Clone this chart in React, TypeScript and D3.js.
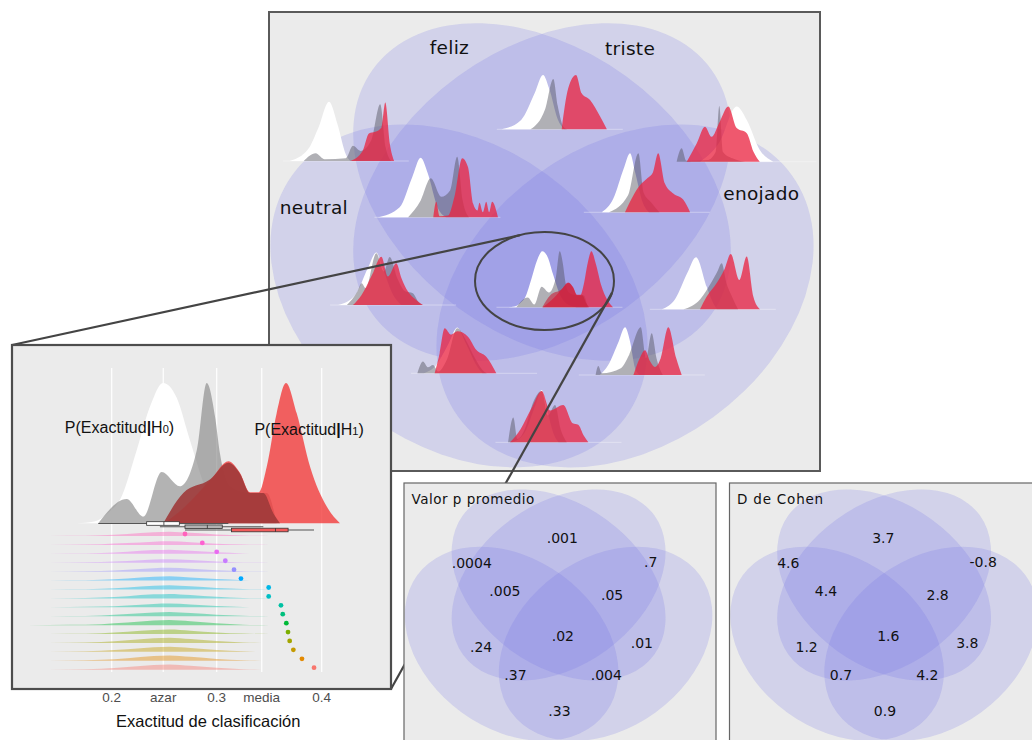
import React from "react";
import * as d3 from "d3";

type Knot = [number, number];

// ---------------- Venn: sets, regions and the values written in them ----------------
const setLabels = ["neutral", "feliz", "triste", "enojado"];

const regionNames = [
  "neutral-feliz", "feliz-triste", "triste-enojado",
  "neutral-feliz-triste", "feliz-triste-enojado", "todas",
  "neutral-triste", "feliz-enojado", "neutral-triste-enojado",
  "neutral-feliz-enojado", "neutral-enojado",
];

const pValues = [".0004", ".001", ".7", ".005", ".05", ".02", ".24", ".01", ".37", ".004", ".33"];
const cohenD = ["4.6", "3.7", "-0.8", "4.4", "2.8", "1.6", "1.2", "3.8", "0.7", "4.2", "0.9"];

// ---------------- inset: accuracy axis ----------------
const accTicks = [0.2, 0.2491, 0.3, 0.3429, 0.4];
const accTickLabels = ["0.2", "azar", "0.3", "media", "0.4"];

// densities of the centre region (accuracy, density)
const insetWhite: Knot[] = [
  [0.1667, 0], [0.1833, 0.2], [0.1981, 1.4], [0.2079, 2.8], [0.2238, 8.7], [0.2365, 13.9],
  [0.249, 16.7], [0.2617, 15], [0.2745, 9.9], [0.29, 4], [0.31, 0.8], [0.33, 0],
];
const insetGray: Knot[] = [
  [0.1872, 0], [0.2143, 2.9], [0.2301, 0.8], [0.2476, 6.1], [0.265, 4.4], [0.281, 8.7],
  [0.2905, 16.7], [0.2984, 12.7], [0.3031, 8.3], [0.3127, 4.4], [0.33, 3.6], [0.3476, 3.6], [0.3571, 0],
];
const insetRed: Knot[] = [
  [0.25, 0], [0.27, 2], [0.295, 5.3], [0.3111, 7.4], [0.3222, 6.0], [0.3317, 3.7], [0.34, 3.7],
  [0.3476, 6.7], [0.3571, 13.1], [0.366, 16.7], [0.3762, 13.1], [0.389, 6.7], [0.4048, 2], [0.4174, 0],
];
const insetDarkRed: Knot[] = [
  [0.2491, 0], [0.2682, 3.6], [0.2936, 5.2], [0.3111, 7.2], [0.3222, 5.9], [0.3317, 3.6],
  [0.3444, 3.6], [0.3539, 1.2], [0.3603, 0],
];

// boxplots under the densities
const boxGroups = ["H0", "obs", "H1"];
const boxMin = [0.1872, 0.2459, 0.2698];
const boxQ1 = [0.2333, 0.2698, 0.3141];
const boxMed = [0.2497, 0.2911, 0.356];
const boxQ3 = [0.2644, 0.3053, 0.368];
const boxMax = [0.3111, 0.3444, 0.3927];

// participants (rows, top to bottom)
const participantAcc = [
  0.2698, 0.2863, 0.3, 0.3082, 0.3165, 0.3231, 0.3495, 0.3495,
  0.3612, 0.3629, 0.3663, 0.3679, 0.3695, 0.373, 0.3812, 0.3927,
];
const participantNullPeak = [15, 13, 15, 12.5, 13.5, 15, 15, 16, 13.5, 15, 18, 16, 19, 18, 19, 19];
const nullShape: Knot[] = [
  [0.12, 0], [0.16, 0.06], [0.19, 0.2], [0.215, 0.5], [0.24, 0.9], [0.255, 1],
  [0.275, 0.75], [0.3, 0.35], [0.325, 0.1], [0.35, 0],
];
const participantColors = [
  "#FF62BC", "#FD61D1", "#E96BF0", "#C77CFF", "#9590FF", "#00A9FF", "#00B8E7", "#00BFC4",
  "#00C1A3", "#00BF7D", "#00BA38", "#7CAE00", "#A3A500", "#C49A00", "#E38900", "#F8766D",
];

// ---------------- mini densities in each Venn region ----------------
const miniWhite: Knot[][] = [
  [[0.156, 0], [0.2, 3.5], [0.225, 10], [0.25, 17.6], [0.27, 11], [0.29, 2], [0.3, 0]],
  [[0.151, 0], [0.198, 2.8], [0.23, 10.7], [0.25, 16.2], [0.265, 12], [0.285, 3], [0.3, 0]],
  [[0.163, 0], [0.21, 6], [0.25, 16.4], [0.274, 12.4], [0.305, 3.5], [0.337, 0]],
  [[0.148, 0], [0.2, 3], [0.23, 12], [0.25, 17.7], [0.267, 13], [0.29, 3], [0.31, 0]],
  [[0.183, 0], [0.21, 4], [0.235, 13], [0.25, 17.6], [0.262, 12], [0.28, 3], [0.295, 0]],
  insetWhite,
  [[0.159, 0], [0.2, 3], [0.23, 11], [0.25, 15.6], [0.265, 11], [0.29, 3], [0.31, 0]],
  [[0.168, 0], [0.2, 3], [0.23, 11], [0.25, 15.5], [0.2755, 6.7], [0.29, 2], [0.3, 0]],
  [[0.17, 0], [0.2, 2.5], [0.23, 9], [0.25, 13.6], [0.27, 9], [0.3, 1.5], [0.31, 0]],
  [[0.19, 0], [0.21, 3], [0.235, 10], [0.25, 14.2], [0.262, 10], [0.274, 2], [0.285, 0]],
  [[0.18, 0], [0.21, 3], [0.235, 11], [0.25, 15.6], [0.262, 10], [0.28, 2], [0.29, 0]],
];
const miniGray: Knot[][] = [
  [[0.19, 0], [0.218, 2.3], [0.24, 0.5], [0.29, 0.8], [0.307, 4.5], [0.325, 3], [0.35, 6], [0.372, 16.9], [0.385, 4], [0.398, 0]],
  [[0.22, 0], [0.255, 6], [0.2745, 15], [0.285, 7], [0.3, 0.5], [0.31, 0]],
  [[0.107, 0], [0.119, 4], [0.13, 0.3], [0.18, 0.5], [0.2, 3], [0.2086, 16.6], [0.217, 3], [0.24, 1], [0.27, 0]],
  [[0.22, 0], [0.25, 5], [0.274, 11.6], [0.299, 6.1], [0.32, 8], [0.337, 18], [0.35, 5], [0.365, 0]],
  [[0.2, 0], [0.245, 5], [0.27, 17.6], [0.282, 6], [0.3, 3], [0.32, 0]],
  insetGray,
  [[0.18, 0], [0.205, 4], [0.215, 6.5], [0.225, 5], [0.25, 15.4], [0.268, 10], [0.282, 14.3], [0.3, 8], [0.32, 4], [0.337, 3.5], [0.35, 1], [0.361, 0]],
  [[0.22, 0], [0.26, 3], [0.2874, 8.2], [0.3, 11], [0.3112, 13.7], [0.322, 8], [0.335, 4], [0.35, 0]],
  [[0.155, 0], [0.1683, 3.5], [0.18, 1.8], [0.1921, 2.5], [0.205, 0.5], [0.225, 4], [0.25, 13.4], [0.27, 10], [0.29, 5], [0.31, 1], [0.32, 0]],
  [[0.18, 0], [0.1864, 2.7], [0.195, 0.5], [0.24, 2], [0.26, 6], [0.2874, 14.2], [0.3, 5], [0.3136, 12.4], [0.325, 5], [0.34, 0]],
  [[0.17, 0], [0.1824, 7.4], [0.192, 1], [0.21, 4], [0.23, 12], [0.25, 15.3], [0.265, 8], [0.2817, 11.1], [0.295, 4], [0.31, 0]],
];
const miniRed: Knot[][] = [
  [[0.3, 0], [0.33, 3], [0.345, 8.2], [0.36, 8.7], [0.375, 10], [0.384, 17.4], [0.395, 5], [0.405, 0]],
  [[0.2945, 0], [0.31, 12.2], [0.3286, 16.2], [0.342, 10.7], [0.362, 8.7], [0.386, 3.8], [0.402, 0]],
  [[0.131, 0], [0.155, 5.5], [0.1745, 10.4], [0.19, 7.4], [0.21, 12], [0.23, 16.4], [0.25, 10], [0.274, 8.5], [0.29, 3], [0.305, 0]],
  [[0.28, 0], [0.287, 4.6], [0.295, 0.3], [0.315, 0.5], [0.33, 6], [0.349, 17.6], [0.3626, 15], [0.375, 4], [0.385, 2], [0.39, 4.3], [0.398, 1.5], [0.406, 4.6], [0.413, 1.5], [0.42, 4.6], [0.434, 0]],
  [[0.238, 0], [0.274, 8.1], [0.29, 10], [0.305, 12], [0.317, 17.6], [0.333, 8.6], [0.353, 5.6], [0.377, 3.7], [0.393, 0]],
  insetRed,
  [[0.1945, 0], [0.215, 3], [0.24, 9], [0.262, 14.4], [0.278, 8.5], [0.2976, 12.4], [0.31, 8], [0.3255, 4], [0.345, 1.5], [0.361, 0]],
  [[0.2595, 0], [0.2755, 3.8], [0.3, 8], [0.318, 12], [0.3326, 16.5], [0.3531, 8.7], [0.3707, 15.7], [0.3864, 3.8], [0.4024, 0]],
  [[0.1962, 0], [0.208, 6], [0.22, 13.4], [0.235, 11.5], [0.25, 12.5], [0.2755, 10.9], [0.295, 7], [0.319, 4.9], [0.3429, 0]],
  [[0.27, 0], [0.285, 5], [0.2976, 7.4], [0.31, 4], [0.3214, 2.4], [0.335, 5], [0.3531, 14.2], [0.372, 5], [0.385, 0]],
  [[0.1745, 0], [0.2, 4], [0.225, 10], [0.25, 15.3], [0.27, 9.5], [0.3014, 11.1], [0.3238, 5.7], [0.3371, 5.2], [0.35, 2], [0.361, 0]],
];
const miniRed2: (Knot[] | null)[] = [null, null, null, null, null, insetDarkRed, null, null, null, null, null];

// ---------------- layout ----------------
const TOP = { x: 269, y: 12, w: 551, h: 459 };
const INSET = { x: 12, y: 345, w: 379, h: 344 };
const SMALL = [
  { x: 404, y: 483, w: 312, h: 270, title: "Valor p promedio", labels: pValues, spacing: 0.5 },
  { x: 729.5, y: 483, w: 312, h: 270, title: "D de Cohen", labels: cohenD, spacing: 0.8 },
];

// ellipse geometry in panel units (panel width = 1)
const ellipses = [
  { cx: 0.3448, cy: 0.5154, a: 0.3739, b: 0.2722, rot: 36 },
  { cx: 0.4955, cy: 0.3267, a: 0.3793, b: 0.2595, rot: 36 },
  { cx: 0.4955, cy: 0.3267, a: 0.3793, b: 0.2595, rot: -36 },
  { cx: 0.6461, cy: 0.5154, a: 0.3739, b: 0.2722, rot: -36 },
];
const setLabelPos = [[0.0194, 0.3666], [0.2917, 0.0762], [0.6098, 0.078], [0.8245, 0.3412]];
const regionLabelPos = [
  [0.1529, 0.2715], [0.4574, 0.1933], [0.7692, 0.2683], [0.2734, 0.3612], [0.6314, 0.375],
  [0.4734, 0.5064], [0.2115, 0.5407], [0.7266, 0.5298], [0.3215, 0.6314], [0.5984, 0.6314], [0.4625, 0.7458],
];
const miniAnchor = [
  [0.1089, 0.2704], [0.4973, 0.2129], [0.8488, 0.2717], [0.2753, 0.3726], [0.6552, 0.3635],
  [0.4967, 0.5359], [0.1947, 0.5318], [0.775, 0.5396], [0.3417, 0.6557], [0.6461, 0.6588], [0.4949, 0.781],
];
const zoomEll = { cx: 0.5, cy: 0.4882, rx: 0.1261, ry: 0.0889 };

const BG = "#ebebeb";
const VENN_FILL = "#6e6ee6";
const SANS = "'DejaVu Sans', sans-serif";
const GG = "'Liberation Sans', Arial, sans-serif";

type Scale = d3.ScaleLinear<number, number>;

const densityArea = (knots: Knot[], x: Scale, y: Scale) =>
  d3.area<Knot>()
    .x((d) => x(d[0]))
    .y0(y(0))
    .y1((d) => y(d[1]))
    .curve(d3.curveMonotoneX)(knots) || "";

const vennScales = (p: { x: number; y: number; w: number }) => ({
  vx: d3.scaleLinear().domain([0, 1]).range([p.x, p.x + p.w]),
  vy: d3.scaleLinear().domain([0, 1]).range([p.y, p.y + p.w]),
  k: p.w,
});

function VennEllipses({ vs }: { vs: ReturnType<typeof vennScales> }) {
  return (
    <g>
      {ellipses.map((e, i) => (
        <ellipse
          key={i}
          cx={vs.vx(e.cx)}
          cy={vs.vy(e.cy)}
          rx={e.a * vs.k}
          ry={e.b * vs.k}
          transform={`rotate(${e.rot},${vs.vx(e.cx)},${vs.vy(e.cy)})`}
          fill={VENN_FILL}
          fillOpacity={0.2}
        />
      ))}
    </g>
  );
}

export default function App() {
  const top = vennScales(TOP);

  const insetX = d3.scaleLinear().domain([0.2, 0.4]).range([111.7, 321.7]);
  const insetY = d3.scaleLinear().domain([0, 20]).range([523.3, 355.3]);
  const rowY = d3.scaleLinear().domain([0, 15]).range([534, 667.7]);
  const ridgeH = d3.scaleLinear().domain([0, 20]).range([0, 5.6]);
  const boxY = d3.scalePoint().domain(boxGroups).range([523.5, 530]);
  const boxFill = ["#ffffff", "#b3b3b3", "#f25b5b"];

  const miniK = 0.4;
  const miniSpan = miniK * (insetX(0.35) - insetX(0.25));
  const miniH = miniK * (insetY(0) - insetY(20));

  const ellPt = (deg: number) => {
    const t = (deg * Math.PI) / 180;
    return [top.vx(zoomEll.cx + zoomEll.rx * Math.cos(t)), top.vy(zoomEll.cy + zoomEll.ry * Math.sin(t))];
  };
  const p1 = ellPt(-110.6);
  const p2 = ellPt(14);

  return (
    <svg
      width={1032}
      height={740}
      style={{ position: "absolute", left: 0, top: 0, background: "#fff" }}
    >
      <defs>
        <clipPath id="clip-top">
          <rect x={TOP.x} y={TOP.y} width={TOP.w} height={TOP.h} />
        </clipPath>
        <clipPath id="clip-inset">
          <rect x={INSET.x} y={INSET.y} width={INSET.w} height={INSET.h} />
        </clipPath>
        {SMALL.map((p, i) => (
          <clipPath key={i} id={`clip-small-${i}`}>
            <rect x={p.x} y={p.y} width={p.w} height={p.h} />
          </clipPath>
        ))}
      </defs>

      {/* ---------- top Venn with mini densities ---------- */}
      <g clipPath="url(#clip-top)">
        <rect x={TOP.x} y={TOP.y} width={TOP.w} height={TOP.h} fill={BG} />
        <VennEllipses vs={top} />
        {regionNames.map((name, i) => {
          const ax = top.vx(miniAnchor[i][0]);
          const ay = top.vy(miniAnchor[i][1]);
          const mx = d3.scaleLinear().domain([0.25, 0.35]).range([ax, ax + miniSpan]);
          const my = d3.scaleLinear().domain([0, 20]).range([ay, ay - miniH]);
          const r2 = miniRed2[i];
          return (
            <g key={name}>
              <line x1={mx(0.14)} x2={mx(0.44)} y1={ay} y2={ay} stroke="#ffffff" strokeOpacity={0.45} strokeWidth={0.8} />
              <path d={densityArea(miniWhite[i], mx, my)} fill="#ffffff" />
              <path d={densityArea(miniGray[i], mx, my)} fill="#50505c" fillOpacity={0.45} />
              <path d={densityArea(miniRed[i], mx, my)} fill="#ea2440" fillOpacity={0.76} />
              {r2 && <path d={densityArea(r2, mx, my)} fill="#c81f38" fillOpacity={0.6} />}
            </g>
          );
        })}
        {setLabels.map((s, i) => (
          <text
            key={s}
            x={top.vx(setLabelPos[i][0])}
            y={top.vy(setLabelPos[i][1])}
            fontFamily={SANS}
            fontSize={18.5}
            letterSpacing={0.3}
            fill="#111"
          >
            {s}
          </text>
        ))}
      </g>
      <rect x={TOP.x} y={TOP.y} width={TOP.w} height={TOP.h} fill="none" stroke="#5a5a5a" strokeWidth={2} />

      {/* zoom ellipse and connectors */}
      <ellipse
        cx={top.vx(zoomEll.cx)}
        cy={top.vy(zoomEll.cy)}
        rx={zoomEll.rx * top.k}
        ry={zoomEll.ry * top.k}
        fill="none"
        stroke="#444"
        strokeWidth={2}
      />
      <line x1={INSET.x} y1={INSET.y} x2={p1[0]} y2={p1[1]} stroke="#444" strokeWidth={2.2} />
      <line x1={INSET.x + INSET.w} y1={INSET.y + INSET.h} x2={p2[0]} y2={p2[1]} stroke="#444" strokeWidth={2.2} />

      {/* ---------- inset: centre region enlarged ---------- */}
      <rect x={INSET.x} y={INSET.y} width={INSET.w} height={INSET.h} fill={BG} />
      <g clipPath="url(#clip-inset)">
        {accTicks.map((t) => (
          <line key={t} x1={insetX(t)} x2={insetX(t)} y1={368} y2={672} stroke="#fff" strokeWidth={1.2} />
        ))}
        <path d={densityArea(insetWhite, insetX, insetY)} fill="#ffffff" />
        <path d={densityArea(insetGray, insetX, insetY)} fill="#808080" fillOpacity={0.6} />
        <path d={densityArea(insetRed, insetX, insetY)} fill="#f23c3c" fillOpacity={0.8} />
        <path d={densityArea(insetDarkRed, insetX, insetY)} fill="#9e3a3a" fillOpacity={0.9} />

        {boxGroups.map((g, i) => {
          const y = boxY(g) as number;
          return (
            <g key={g}>
              <line x1={insetX(boxMin[i])} x2={insetX(boxMax[i])} y1={y} y2={y} stroke="#555" strokeWidth={1.1} />
              <rect
                x={insetX(boxQ1[i])}
                y={y - 1.8}
                width={insetX(boxQ3[i]) - insetX(boxQ1[i])}
                height={3.6}
                fill={boxFill[i]}
                stroke="#333"
                strokeWidth={0.8}
              />
              <line x1={insetX(boxMed[i])} x2={insetX(boxMed[i])} y1={y - 1.8} y2={y + 1.8} stroke="#333" strokeWidth={0.8} />
            </g>
          );
        })}

        {participantAcc.map((acc, i) => {
          const base = rowY(i) + 2;
          const ry = d3.scaleLinear().domain([0, 20]).range([base, base - ridgeH(20)]);
          const knots: Knot[] = nullShape.map(([a, r]) => [a, r * participantNullPeak[i]]);
          return (
            <g key={i}>
              <path d={densityArea(knots, insetX, ry)} fill={participantColors[i]} fillOpacity={0.42} />
              <circle cx={insetX(acc)} cy={rowY(i)} r={2.4} fill={participantColors[i]} />
            </g>
          );
        })}

        <text x={insetX(0.2074)} y={432.7} textAnchor="middle" fontFamily={GG} fontSize={16} fill="#111">
          <tspan>P(Exactitud</tspan>
          <tspan fontWeight="bold">|</tspan>
          <tspan>H</tspan>
          <tspan fontSize={11}>0</tspan>
          <tspan>)</tspan>
        </text>
        <text x={insetX(0.388)} y={435} textAnchor="middle" fontFamily={GG} fontSize={16} fill="#111">
          <tspan>P(Exactitud</tspan>
          <tspan fontWeight="bold">|</tspan>
          <tspan>H</tspan>
          <tspan fontSize={11}>1</tspan>
          <tspan>)</tspan>
        </text>
      </g>
      <rect x={INSET.x} y={INSET.y} width={INSET.w} height={INSET.h} fill="none" stroke="#4d4d4d" strokeWidth={2.2} />

      {accTicks.map((t, i) => (
        <text key={t} x={insetX(t)} y={701.7} textAnchor="middle" fontFamily={GG} fontSize={13.5} fill="#4d4d4d">
          {accTickLabels[i]}
        </text>
      ))}
      <text x={insetX(0.292)} y={726.7} textAnchor="middle" fontFamily={GG} fontSize={16.5} fill="#111">
        Exactitud de clasificación
      </text>

      {/* ---------- small Venns: p values and Cohen's d ---------- */}
      {SMALL.map((p, si) => {
        const vs = vennScales(p);
        return (
          <g key={p.title}>
            <g clipPath={`url(#clip-small-${si})`}>
              <rect x={p.x} y={p.y} width={p.w} height={p.h} fill={BG} />
              <VennEllipses vs={vs} />
              {p.labels.map((lab, i) => (
                <text
                  key={i}
                  x={vs.vx(regionLabelPos[i][0])}
                  y={vs.vy(regionLabelPos[i][1])}
                  fontFamily={SANS}
                  fontSize={14}
                  fill="#111"
                >
                  {lab}
                </text>
              ))}
              <text x={p.x + 7.5} y={p.y + 20.5} fontFamily={SANS} fontSize={13.5} letterSpacing={p.spacing} fill="#111">
                {p.title}
              </text>
            </g>
            <rect x={p.x} y={p.y} width={p.w} height={p.h} fill="none" stroke="#666" strokeWidth={1.2} />
          </g>
        );
      })}
    </svg>
  );
}
